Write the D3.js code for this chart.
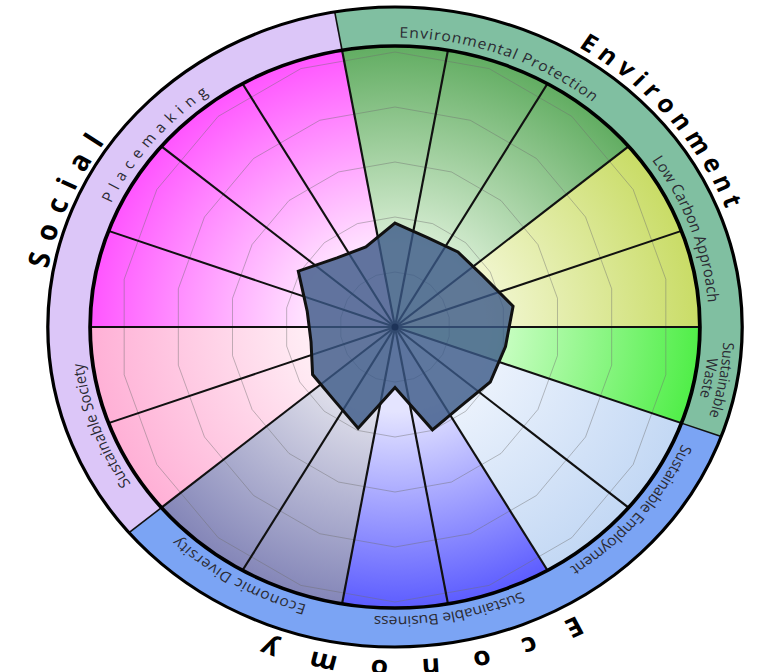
<!DOCTYPE html>
<html>
<head>
<meta charset="utf-8">
<script src="https://cdn.jsdelivr.net/npm/d3@7"></script>
<style>
  html, body { margin: 0; padding: 0; background: #fff; }
  svg { display: block; }
  text { font-family: "Open Sans", "Noto Sans", sans-serif; }
</style>
</head>
<body>
<svg id="chart" width="757" height="672"></svg>
<script>
// three pillars, eight themes, 18 indicators (clockwise from the top)
const categories = ["Environment", "Economy", "Social"];
const themes = ["Environmental Protection", "Low Carbon Approach", "Sustainable Waste",
  "Sustainable Employment", "Sustainable Business", "Economic Diversity",
  "Sustainable Society", "Placemaking"];
const themeCategory = ["Environment", "Environment", "Environment",
  "Economy", "Economy", "Economy", "Social", "Social"];
const themeIndicators = [3, 2, 1, 2, 2, 2, 2, 4];
const scores = [1.89, 1.73, 1.78, 1.85, 2.18, 2.04, 2.0, 1.87, 1.99,
  1.10, 1.96, 1.73, 1.73, 1.55, 1.62, 2.03, 1.64, 1.55];
const gridLevels = [1, 2, 3, 4, 5];

const cx = 395, cy = 327;
const stretch = 1.085;          // the wheel is drawn a little wider than tall
const rimR = 281, bandR = 320;
const deg = Math.PI / 180;

// [pale, rim] colour of each theme's wedges
const themeFill = {
  "Environmental Protection": ["#d9eed5", "#62ad62"],
  "Low Carbon Approach": ["#f3f7d4", "#c9dc66"],
  "Sustainable Waste": ["#d2ffcc", "#50ee48"],
  "Sustainable Employment": ["#eef4fd", "#c3d8f4"],
  "Sustainable Business": ["#e4e4ff", "#5c5cff"],
  "Economic Diversity": ["#e0e0eb", "#8486b8"],
  "Sustainable Society": ["#ffecf4", "#ffb0d6"],
  "Placemaking": ["#ffe2ff", "#ff55ff"]
};
const categoryFill = { Environment: "#80bfa1", Economy: "#7ba4f4", Social: "#dcc6f8" };

const labelStyle = {
  "Environmental Protection": { size: 14.5, spacing: 0.9 },
  "Low Carbon Approach": { size: 14.5, spacing: 0.2 },
  "Sustainable Waste": { size: 14, spacing: 0 },
  "Sustainable Employment": { size: 14.5, spacing: -0.2 },
  "Sustainable Business": { size: 14.5, spacing: -0.1 },
  "Economic Diversity": { size: 14.5, spacing: 0.6 },
  "Sustainable Society": { size: 14.5, spacing: 0 },
  "Placemaking": { size: 14.5, spacing: 5.8 }
};
const catStyle = {
  Environment: { size: 24, spacing: 6, r: 327, shift: 0.5 },
  Economy: { size: 26, spacing: 30, r: 333, shift: 8 },
  Social: { size: 27, spacing: 12, r: 325, shift: 3.5 }
};

const n = scores.length;
const angle = d3.scaleLinear().domain([0, n]).range([-10 * deg, 350 * deg]);
const r = d3.scaleLinear().domain([0, 5]).range([0, 275]);

const indTheme = themes.flatMap((t, k) => d3.range(themeIndicators[k]).map(() => t));
const themeStart = [0, ...d3.cumsum(themeIndicators)];
const catStart = categories.map(c => themeStart[themeCategory.indexOf(c)]);
const catEnd = categories.map(c => themeStart[themeCategory.lastIndexOf(c) + 1]);

const svg = d3.select("#chart");
const defs = svg.append("defs");

themes.forEach((t, k) => {
  const g = defs.append("radialGradient").attr("id", "grad" + k)
    .attr("gradientUnits", "userSpaceOnUse").attr("cx", 0).attr("cy", 0).attr("r", rimR);
  g.append("stop").attr("offset", 0).attr("stop-color", themeFill[t][0]);
  g.append("stop").attr("offset", 0.3).attr("stop-color", themeFill[t][0]);
  g.append("stop").attr("offset", 1).attr("stop-color", themeFill[t][1]);
});

const wheel = () => svg.append("g").attr("transform", `translate(${cx},${cy}) scale(${stretch},1)`);
const radar = () => svg.append("g").attr("transform", `translate(${cx},${cy})`);

// wedges
const wedgeArc = d3.arc().innerRadius(0).outerRadius(rimR);
wheel().selectAll("path").data(d3.range(n)).join("path")
  .attr("d", i => wedgeArc({ startAngle: angle(i), endAngle: angle(i + 1) }))
  .attr("fill", i => `url(#grad${themes.indexOf(indTheme[i])})`);

// grid rings
const ringLine = d3.lineRadial().angle((d, i) => i * 360 / n * deg).radius(d => r(d))
  .curve(d3.curveLinearClosed);
radar().selectAll("path").data(gridLevels).join("path")
  .attr("d", lv => ringLine(d3.range(n).map(() => lv)))
  .attr("fill", "none").attr("stroke", "#6f6f6f").attr("stroke-width", 0.8).attr("stroke-opacity", 0.55);

// outer band
const wg = wheel();
const bandArc = d3.arc().innerRadius(rimR).outerRadius(bandR);
wg.selectAll("path.band").data(categories).join("path").attr("class", "band")
  .attr("d", (c, j) => bandArc({ startAngle: angle(catStart[j]), endAngle: angle(catEnd[j]) }))
  .attr("fill", c => categoryFill[c]);
wg.selectAll("line.cat").data(catStart).join("line").attr("class", "cat")
  .attr("x1", s => rimR * Math.sin(angle(s))).attr("y1", s => -rimR * Math.cos(angle(s)))
  .attr("x2", s => bandR * Math.sin(angle(s))).attr("y2", s => -bandR * Math.cos(angle(s)))
  .attr("stroke", "#111").attr("stroke-width", 1.5);

// spokes
wg.selectAll("line.spoke").data(d3.range(n)).join("line").attr("class", "spoke")
  .attr("x1", 0).attr("y1", 0)
  .attr("x2", i => rimR * Math.sin(angle(i))).attr("y2", i => -rimR * Math.cos(angle(i)))
  .attr("stroke", "#111").attr("stroke-width", 2);
wg.append("circle").attr("r", rimR).attr("fill", "none").attr("stroke", "#000").attr("stroke-width", 3.5);
wg.append("circle").attr("r", bandR).attr("fill", "none").attr("stroke", "#000").attr("stroke-width", 3);

// labels on arcs
function arcPath(rad, c) {
  const a0 = (c - 90) * deg, a1 = (c + 90) * deg;
  return `M${rad * Math.sin(a0)},${-rad * Math.cos(a0)} A${rad},${rad} 0 0 1 ${rad * Math.sin(a1)},${-rad * Math.cos(a1)}`;
}
let pid = 0;
function arcLabel(g, txt, rad, c, size, spacing, weight, color) {
  const id = "lp" + (pid++);
  defs.append("path").attr("id", id).attr("d", arcPath(rad, c));
  g.append("text").attr("font-size", size).attr("font-weight", weight).attr("fill", color)
    .attr("letter-spacing", spacing)
    .append("textPath").attr("href", "#" + id).attr("startOffset", "50%")
    .attr("text-anchor", "middle").text(txt);
}
const lg = wheel();
themes.forEach((t, k) => {
  const c = (angle((themeStart[k] + themeStart[k + 1]) / 2)) / deg;
  const st = labelStyle[t];
  const lines = themeIndicators[k] === 1 ? t.split(" ") : [t];
  lines.forEach((ln, j) => {
    arcLabel(lg, ln, 289.5 + (lines.length - 1 - j) * 13.5, c, st.size, st.spacing, "normal", "#2b2b33");
  });
});
categories.forEach((cat, j) => {
  const st = catStyle[cat];
  const c = angle((catStart[j] + catEnd[j]) / 2) / deg + st.shift;
  arcLabel(lg, cat, st.r, c, st.size, st.spacing, "bold", "#000");
});

// scores
const scoreLine = d3.lineRadial().angle((d, i) => i * 360 / n * deg).radius(d => r(d))
  .curve(d3.curveLinearClosed);
const rg = radar();
rg.append("path").attr("d", scoreLine(scores))
  .attr("fill", "#3a5886").attr("fill-opacity", 0.8)
  .attr("stroke", "#111").attr("stroke-width", 3).attr("stroke-linejoin", "miter");
rg.append("circle").attr("r", 3.5).attr("fill", "#1d3358");
</script>
</body>
</html>
